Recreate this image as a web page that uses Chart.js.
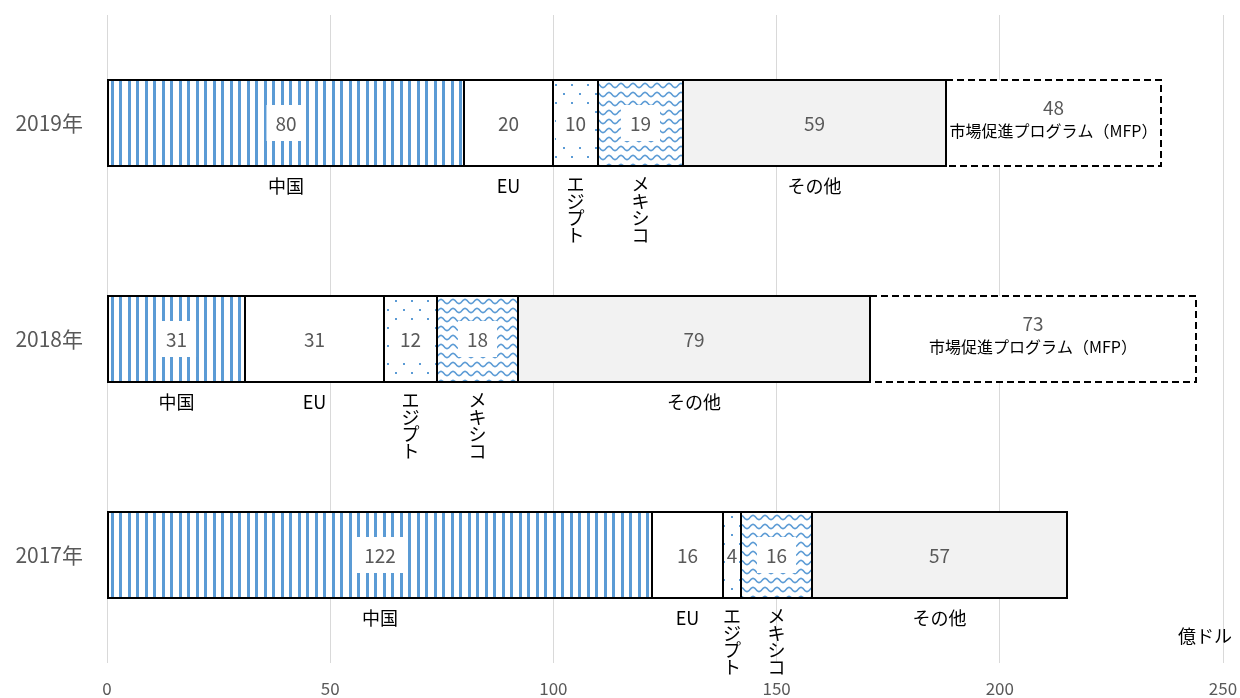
<!DOCTYPE html>
<html>
<head>
<meta charset="utf-8">
<script src="https://cdn.jsdelivr.net/npm/chart.js@4/dist/chart.umd.min.js"></script>
<style>
  html, body { margin: 0; padding: 0; background: #fff; }
  canvas { display: block; }
</style>
</head>
<body>
<canvas id="c" width="1240" height="698"></canvas>
<script>
// Export destinations by year (億ドル)
const categories = ['2019年', '2018年', '2017年'];
const seriesNames = ['中国', 'EU', 'エジプト', 'メキシコ', 'その他', '市場促進プログラム（MFP）'];
const china  = [80, 31, 122];
const eu     = [20, 31, 16];
const egypt  = [10, 12, 4];
const mexico = [19, 18, 16];
const others = [59, 79, 57];
const mfp    = [48, 73, null];
const xTicks = [0, 50, 100, 150, 200, 250];
const unitLabel = '億ドル';

const FONT = "'Noto Sans CJK JP', 'Noto Sans', sans-serif";
const BLUE = '#5B9BD5';

function makeTile(w, h, draw) {
  const c = document.createElement('canvas');
  c.width = w; c.height = h;
  const g = c.getContext('2d');
  g.fillStyle = '#fff';
  g.fillRect(0, 0, w, h);
  draw(g, w, h);
  return document.getElementById('c').getContext('2d').createPattern(c, 'repeat');
}

// narrow vertical stripes
const stripes = makeTile(17, 4, (g, w, h) => {
  g.fillStyle = BLUE;
  g.fillRect(0, 0, 3, h);
  g.fillRect(9, 0, 3, h);
});
// scattered dots
const dots = makeTile(16, 18, (g) => {
  g.fillStyle = BLUE;
  g.fillRect(3, 3, 2, 2);
  g.fillRect(11, 12, 2, 2);
});
// wave lines
const waves = makeTile(12, 9, (g, w, h) => {
  g.strokeStyle = BLUE;
  g.lineWidth = 1.6;
  g.beginPath();
  for (let x = -1; x <= w + 1; x += 0.5) {
    const y = 4.5 + 2.1 * Math.sin(2 * Math.PI * x / w);
    if (x === -1) g.moveTo(x, y); else g.lineTo(x, y);
  }
  g.stroke();
});

const seriesValues = [china, eu, egypt, mexico, others, mfp];
const fills = [stripes, '#ffffff', dots, waves, '#F2F2F2', '#ffffff'];
const boxedLabels = [true, false, true, true, false, false];
const verticalNames = [false, false, true, true, false, false];

const datasets = seriesValues.map((vals, i) => ({
  label: seriesNames[i],
  data: vals,
  backgroundColor: fills[i],
  borderWidth: 0,
  categoryPercentage: 1,
  barPercentage: 86 / 216
}));

const segmentDecor = {
  id: 'segmentDecor',
  afterDatasetsDraw(chart) {
    const ctx = chart.ctx;
    ctx.save();
    chart.data.datasets.forEach((ds, di) => {
      const meta = chart.getDatasetMeta(di);
      meta.data.forEach((el, i) => {
        const v = ds.data[i];
        if (v === null || v === undefined) return;
        const p = el.getProps(['x', 'y', 'base', 'height'], true);
        const left = Math.round(Math.min(p.x, p.base));
        const right = Math.round(Math.max(p.x, p.base));
        const top = Math.round(p.y - p.height / 2);
        const bottom = Math.round(p.y + p.height / 2);
        const cx = (left + right) / 2;
        const cy = (top + bottom) / 2;

        // outline
        ctx.lineWidth = 2;
        ctx.strokeStyle = '#000';
        ctx.setLineDash(di === 5 ? [7, 4] : []);
        ctx.strokeRect(left, top, right - left, bottom - top);
        ctx.setLineDash([]);

        // value label
        ctx.textAlign = 'center';
        ctx.textBaseline = 'middle';
        if (di === 5) {
          ctx.font = '19px ' + FONT;
          ctx.fillStyle = '#595959';
          ctx.fillText(String(v), cx, cy - 15);
          ctx.font = '16px ' + FONT;
          ctx.fillStyle = '#000';
          ctx.fillText(ds.label, cx, cy + 8);
          return;
        }
        ctx.font = '19px ' + FONT;
        const txt = String(v);
        if (boxedLabels[di]) {
          const tw = ctx.measureText(txt).width;
          let bw = tw + 18;
          const maxW = right - left - 4;
          if (bw > maxW) bw = maxW;
          ctx.fillStyle = '#fff';
          ctx.fillRect(cx - bw / 2, cy - 18, bw, 36);
        }
        ctx.fillStyle = '#595959';
        ctx.fillText(txt, cx, cy + 1);

        // series name under the segment
        ctx.fillStyle = '#000';
        ctx.font = '18px ' + FONT;
        if (verticalNames[di]) {
          const chars = Array.from(ds.label);
          chars.forEach((ch, k) => {
            ctx.fillText(ch, cx, bottom + 18 + k * 17);
          });
        } else {
          ctx.fillText(ds.label, cx, bottom + 20);
        }
      });
    });
    ctx.restore();
  },
  afterDraw(chart) {
    const ctx = chart.ctx;
    ctx.save();
    ctx.font = '18px ' + FONT;
    ctx.fillStyle = '#000';
    ctx.textAlign = 'center';
    ctx.textBaseline = 'middle';
    const xs = chart.scales.x;
    ctx.fillText(unitLabel, xs.getPixelForValue(xTicks[xTicks.length - 1]) - 18, 636);
    ctx.restore();
  }
};

Chart.defaults.font.family = FONT;

new Chart(document.getElementById('c'), {
  type: 'bar',
  data: { labels: categories, datasets },
  options: {
    indexAxis: 'y',
    responsive: false,
    devicePixelRatio: 1,
    animation: false,
    layout: { padding: { top: 15, right: 17, bottom: 0, left: 0 } },
    plugins: { legend: { display: false }, tooltip: { enabled: false } },
    scales: {
      x: {
        type: 'linear',
        stacked: true,
        min: xTicks[0],
        max: xTicks[xTicks.length - 1],
        afterBuildTicks(scale) { scale.ticks = xTicks.map(v => ({ value: v })); },
        afterFit(scale) {
          scale.height = 35;
          scale.paddingLeft = 0;
          scale.paddingRight = 0;
        },
        grid: { color: '#D9D9D9', lineWidth: 1, drawTicks: false },
        border: { display: false },
        ticks: { color: '#595959', font: { size: 17 }, padding: 15 }
      },
      y: {
        stacked: true,
        afterFit(scale) {
          scale.width = 107;
          scale.paddingTop = 0;
          scale.paddingBottom = 0;
        },
        grid: { display: false, drawTicks: false },
        border: { display: false },
        ticks: { color: '#595959', font: { size: 21 }, padding: 24 }
      }
    }
  },
  plugins: [segmentDecor]
});
</script>
</body>
</html>
